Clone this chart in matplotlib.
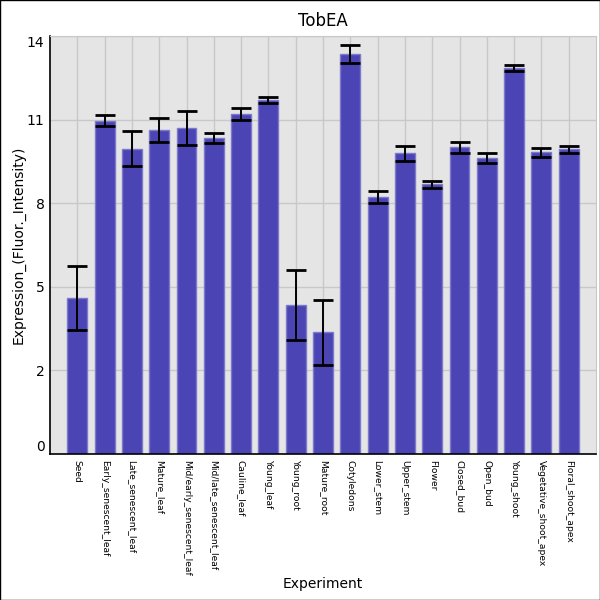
import numpy as np
import matplotlib
matplotlib.use("Agg")
import matplotlib.pyplot as plt
from matplotlib.patches import Rectangle

# --- データ ---
experiments = [
    "Seed", "Early_senescent_leaf", "Late_senescent_leaf", "Mature_leaf",
    "Mid/early_senescent_leaf", "Mid/late_senescent_leaf", "Cauline_leaf",
    "Young_leaf", "Young_root", "Mature_root", "Cotyledons", "Lower_stem",
    "Upper_stem", "Flower", "Closed_bud", "Open_bud", "Young_shoot",
    "Vegetative_shoot_apex", "Floral_shoot_apex",
]
expression = [5.23, 11.16, 10.22, 10.85, 10.92, 10.58, 11.38, 11.86, 4.98, 4.08,
              13.39, 8.60, 10.07, 9.03, 10.27, 9.91, 12.92, 10.10, 10.20]
errors = [1.07, 0.18, 0.59, 0.41, 0.58, 0.17, 0.21, 0.11, 1.17, 1.09,
          0.30, 0.21, 0.25, 0.13, 0.18, 0.16, 0.10, 0.16, 0.13]
ytick_values = np.linspace(0, 14, 6)

fig = plt.figure(figsize=(6, 6), dpi=100)
fig.patches.append(Rectangle((0, 0), 1, 1, transform=fig.transFigure,
                             fill=False, edgecolor="black", linewidth=1.0))
ax = fig.add_axes([50 / 600, 1 - 454 / 600, 546 / 600, 418 / 600])
ax.set_facecolor("#e5e5e5")

x = np.arange(len(experiments))
ax.bar(x, expression, width=0.73, color="#4a44b4", edgecolor="#7d79cb",
       linewidth=1.0, zorder=2)
ax.errorbar(x, expression, yerr=errors, fmt="none", ecolor="black",
            elinewidth=1.4, capsize=7.0, capthick=2.0, zorder=3)

ax.set_xlim(-1, len(experiments))
ax.set_ylim(0, 14)

# グリッド
ax.set_xticks(x)
ax.set_xticklabels(experiments, rotation=270, fontsize=6.6, ha="center", va="top")
ax.set_yticks(ytick_values)
ax.set_yticklabels([str(int(v)) for v in ytick_values], fontsize=10)
ax.grid(True, color="#c8c8c8", linewidth=1.0, zorder=0)
ax.set_axisbelow(True)
ax.tick_params(length=0, pad=4)
ylabels = ax.get_yticklabels()
ylabels[0].set_va("bottom")
ylabels[-1].set_va("top")

for side in ["top", "right"]:
    ax.spines[side].set_color("#c8c8c8")
for side in ["left", "bottom"]:
    ax.spines[side].set_color("black")
    ax.spines[side].set_linewidth(1.2)

ax.set_title("TobEA", fontsize=12, pad=7)
ax.set_ylabel("Expression_(Fluor._Intensity)", fontsize=10, labelpad=1)
fig.text(323 / 600, 1 - 584 / 600, "Experiment", ha="center", va="center",
         fontsize=10)

fig.savefig("out.png", dpi=100, facecolor="white")
